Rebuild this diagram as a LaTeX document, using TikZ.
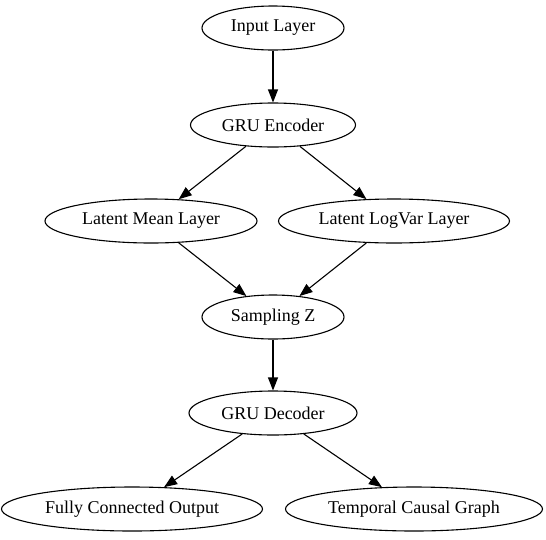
\documentclass[tikz,border=0pt]{standalone}
\usepackage{fontspec}
\setmainfont{Liberation Serif}
\usetikzlibrary{shapes.geometric,arrows.meta}
\begin{document}
\begin{tikzpicture}[x=1pt,y=-1pt,>={Triangle[length=13pt,width=10pt]},
	layer/.style={draw,ellipse,line width=1.1pt,inner sep=0pt,minimum height=44pt,font=\fontsize{18}{20}\selectfont},
	link/.style={->,line width=1.1pt}]
	\useasboundingbox (0,0) rectangle (546,539);
	%	encoder part
	\node[layer,minimum width=142pt] (input) at (273,28) {Input Layer};
	\node[layer,minimum width=165pt] (enc) at (273,125) {GRU Encoder};
	\node[layer,minimum width=212pt] (mean) at (151,221) {Latent Mean Layer};
	\node[layer,minimum width=231pt] (logvar) at (394,221) {Latent LogVar Layer};
	\node[layer,minimum width=142pt] (z) at (273,317) {Sampling Z};
	%	decoder part
	\node[layer,minimum width=168pt] (dec) at (273,413) {GRU Decoder};
	\node[layer,minimum width=261pt] (fc) at (132,509) {Fully Connected Output};
	\node[layer,minimum width=257pt] (tcg) at (414,509) {Temporal Causal Graph};
	\draw[link] (input)--(enc);
	\draw[link] (enc)--(mean);
	\draw[link] (enc)--(logvar);
	\draw[link] (mean)--(z);
	\draw[link] (logvar)--(z);
	\draw[link] (z)--(dec);
	\draw[link] (dec)--(fc);
	\draw[link] (dec)--(tcg);
\end{tikzpicture}
\end{document}
